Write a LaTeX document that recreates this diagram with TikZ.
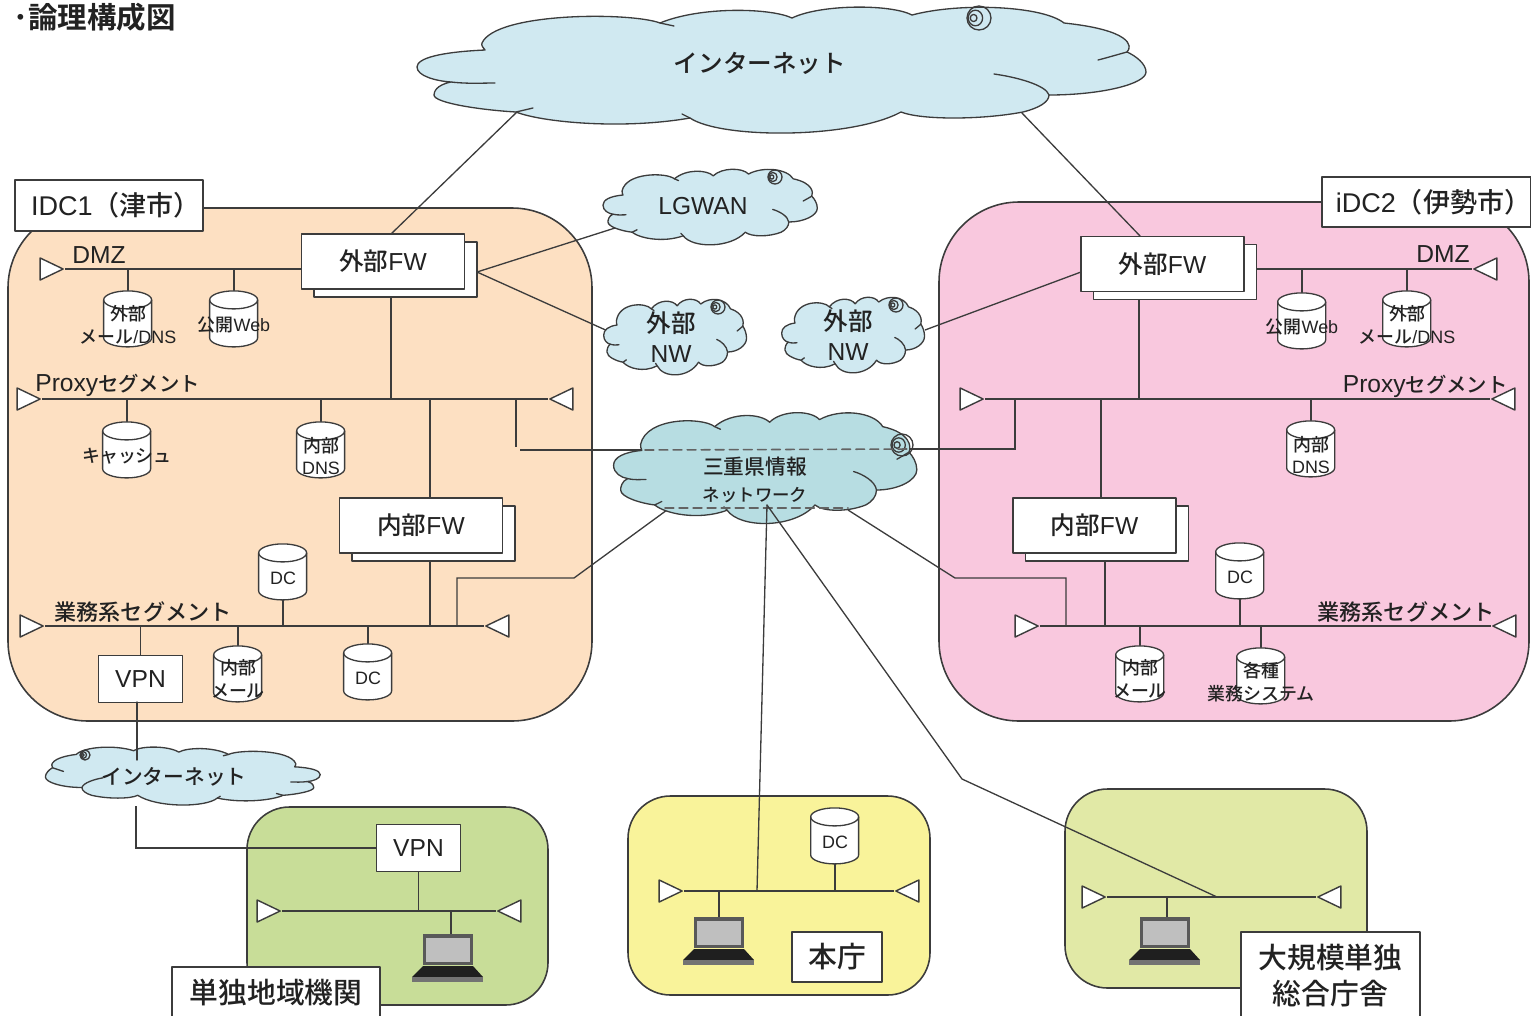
\documentclass[tikz,border=0pt]{standalone}
\usepackage{fontspec}
\setmainfont{Liberation Sans}
\newfontfamily\cjk{Noto Sans CJK JP Medium}
\newfontfamily\cjkbold{Noto Sans CJK JP Bold}
\newcommand{\jp}[1]{{\cjk #1}}
\usepackage{tikz}
\usetikzlibrary{shapes,shadows,backgrounds,calc}
\definecolor{idcOne}{HTML}{FDE0C2}
\definecolor{idcTwo}{HTML}{F9C8DE}
\definecolor{siteGreen}{HTML}{C8DD98}
\definecolor{siteYellow}{HTML}{F9F39A}
\definecolor{siteLime}{HTML}{E1E9A6}
\definecolor{cloudPale}{HTML}{D0E9F1}
\definecolor{cloudDeep}{HTML}{B7DDE2}
\definecolor{inkLine}{HTML}{3C3C3C}
\definecolor{inkText}{HTML}{222222}
\tikzset{
	wire/.style={draw=inkLine,line width=0.75pt},
	dashwire/.style={draw=inkLine!80,line width=0.9pt,dashed,dash pattern=on 5pt off 3pt},
	region/.style={draw=inkLine,line width=0.9pt},
	txtS/.style={font=\fontsize{10.2}{13}\selectfont,text=inkText,align=center,inner sep=0pt},
	txtM/.style={font=\fontsize{11.8}{15}\selectfont,text=inkText,align=center,inner sep=0pt},
	txtL/.style={font=\fontsize{14}{17.2}\selectfont,text=inkText,align=center,inner sep=0pt},
	txtXL/.style={font=\fontsize{16.4}{20}\selectfont,text=inkText,align=center,inner sep=0pt},
	tagbox/.style={draw=inkLine,fill=white,line width=0.8pt,inner sep=0pt},
	fwbox/.style={tagbox,minimum width=3.26cm,minimum height=1.1cm,txtL,
		copy shadow={shadow xshift=0.25cm,shadow yshift=-0.16cm,fill=white,draw=inkLine,line width=0.8pt}},
	vpnbox/.style={tagbox,minimum width=1.68cm,minimum height=0.94cm,txtL},
	tipR/.style={draw=inkLine,fill=white,line width=0.8pt,isosceles triangle,isosceles triangle stretches,
		shape border rotate=0,minimum width=0.44cm,minimum height=0.46cm,inner sep=0pt,anchor=apex},
	tipL/.style={tipR,shape border rotate=180},
	dbbox/.style={minimum width=0.96cm,minimum height=1.11cm,inner sep=0pt},
	dbline/.style={wire,fill=white},
	pics/laptop/.style={code={
		\coordinate (-top) at (0,0);
		\fill[black!65] (-25,0) rectangle (25,31);
		\fill[black!25] (-22,4) rectangle (22,28);
		\fill[black!88] (-25,32) -- (25,32) -- (35,43) -- (-36,43) -- cycle;
		\fill[black!55] (-36,43) rectangle (35,48);
	}},
}
\newcommand{\netcloud}[5]{
	\begin{scope}[shift={(#1,#2)},xscale=#3,yscale=#4]
	\draw[wire,fill=#5] (-296,-20) .. controls (-340,-18) and (-364,-12) .. (-364,-3)
		.. controls (-364,6) and (-345,11) .. (-330,12)
		.. controls (-345,15) and (-347,22) .. (-347,25)
		.. controls (-347,33) and (-300,40) .. (-265,42)
		.. controls (-240,52) and (-160,60) .. (-91,48)
		.. controls (-60,69) and (70,69) .. (120,42)
		.. controls (140,50) and (200,50) .. (242,42)
		.. controls (258,38) and (268,32) .. (268,25)
		.. controls (320,25) and (365,14) .. (365,2)
		.. controls (365,-6) and (355,-14) .. (346,-18)
		.. controls (352,-24) and (350,-40) .. (283,-47)
		.. controls (262,-64) and (180,-68) .. (131,-55)
		.. controls (110,-66) and (40,-66) .. (11,-52)
		.. controls (-10,-62) and (-80,-64) .. (-121,-47)
		.. controls (-150,-58) and (-285,-58) .. (-299,-27)
		.. controls (-300,-25) and (-298,-22) .. (-296,-20) -- cycle;
	\draw[wire] (-330,12) .. controls (-312,14) and (-300,13) .. (-286,13);
	\draw[wire] (-265,42) -- (-248,38);
	\draw[wire] (-91,48) -- (-99,44);
	\draw[wire] (268,25) .. controls (265,15) and (235,7) .. (213,4);
	\draw[wire] (346,-18) .. controls (335,-15) and (325,-12) .. (317,-10);
	\draw[wire] (-121,-47) -- (-107,-44);
	\end{scope}
}
\newcommand{\cloudswirl}[3]{
	\draw[wire] (#1,#2) ellipse ({#3} and {#3});
	\draw[wire] ({#1-0.3*#3},#2) ellipse ({0.6*#3} and {0.65*#3});
	\draw[wire] ({#1-0.45*#3},#2) ellipse ({0.28*#3} and {0.3*#3});
}
\begin{document}
\begin{tikzpicture}[line cap=round,line join=round,x=0.02cm,y=-0.02cm]
	\useasboundingbox (0,0) rectangle (1531,1015);
	\begin{scope}[on background layer]
	\draw[region,fill=idcOne,rounded corners=1.6cm] (8,208) rectangle (592,721);
	\draw[region,fill=idcTwo,rounded corners=1.6cm] (939,202) rectangle (1529,721);
	\draw[region,fill=siteGreen,rounded corners=0.85cm] (247,807) rectangle (548,1005);
	\draw[region,fill=siteYellow,rounded corners=0.85cm] (628,796) rectangle (930,995);
	\draw[region,fill=siteLime,rounded corners=0.85cm] (1065,789) rectangle (1367,988);
	\end{scope}

	\node[txtL,font=\fontsize{16.8}{19}\selectfont,anchor=west] (title) at (13,17) {{\cjkbold ･論理構成図}};
	\node[tagbox,txtL,font=\fontsize{15.4}{18}\selectfont,minimum width=3.76cm,minimum height=1.02cm] (tagIdcA) at (109,205.5) {IDC1\jp{（津市）}\hspace*{-8pt}};
	\node[tagbox,txtL,font=\fontsize{15.4}{18}\selectfont,minimum width=4.18cm,minimum height=1cm] (tagIdcB) at (1426.5,202) {iDC2\jp{（伊勢市）}\hspace*{-8pt}};
	\node[tagbox,txtXL,minimum width=1.8cm,minimum height=1cm] (tagHonchou) at (837,957) {\jp{本庁}};
	\node[tagbox,txtXL,minimum width=4.16cm,minimum height=1.04cm] (tagSolo) at (276,993) {\jp{単独地域機関}};
	\node[tagbox,txtXL,minimum width=3.58cm,minimum height=1.74cm] (tagLarge) at (1330.5,975.5) {\jp{大規模単独}\\\jp{総合庁舎}};

	\node[fwbox] (fwA) at (383,261.5) {\jp{外部}FW};
	\node[fwbox] (fwB) at (1162.5,264) {\jp{外部}FW};
	\node[fwbox] (fwC) at (421,525.5) {\jp{内部}FW};
	\node[fwbox] (fwD) at (1094.5,525.5) {\jp{内部}FW};
	\node[vpnbox] (vpnA) at (140.5,679) {VPN};
	\node[vpnbox] (vpnB) at (418.5,848) {VPN};

	\node[tipR] (dmzA-l) at (65,269) {};
	\node[tipL] (dmzB-r) at (1472,269) {};
	\foreach \nm/\lx/\rx/\y in {proxyA/42/548/399,proxyB/985/1490/399,bizA/45/484/626,bizB/1040/1491/626,
		busGreen/282/496/911,busYellow/684/894/891,busLime/1107/1316/897}{
		\node[tipR] (\nm-l) at (\lx,\y) {};
		\node[tipL] (\nm-r) at (\rx,\y) {};
	}

	\node[txtL,anchor=west] (dmzAtxt) at (72,255) {DMZ};
	\node[txtL,anchor=east] (dmzBtxt) at (1470,254) {DMZ};
	\node[txtL,anchor=west] (proxyAtxt) at (35,385) {Proxy\jp{\fontsize{11.6}{15}\selectfont セグメント}};
	\node[txtL,anchor=east] (proxyBtxt) at (1508,386) {Proxy\jp{\fontsize{11.6}{15}\selectfont セグメント}};
	\node[txtM,font=\fontsize{12.6}{15}\selectfont] (bizAtxt) at (143,612) {\jp{業務系セグメント}};
	\node[txtM,font=\fontsize{12.6}{15}\selectfont] (bizBtxt) at (1406,612) {\jp{業務系セグメント}};

	\foreach \nm/\x/\y/\ty/\txt in {dbA/128/319/325/{\jp{外部}\\\jp{メール}/DNS},dbB/234/319/325/{\jp{公開}Web},
		dbC/127/450/456/{\jp{キャッシュ}},dbD/321/450/456/{\jp{内部}\\DNS},dbE/283/572/578/DC,
		dbF/368/672/678/DC,dbG/238/674/679/{\jp{内部}\\\jp{メール}},dbH/1302/321/327/{\jp{公開}Web},
		dbI/1407/319/325/{\jp{外部}\\\jp{メール}/DNS},dbJ/1311/449/455/{\jp{内部}\\DNS},dbK/1240/571/577/DC,
		dbL/1140/674/679/{\jp{内部}\\\jp{メール}},dbM/1261/676/682/{\jp{各種}\\\jp{業務システム}},dbN/835/836/842/DC}{
		\node[dbbox] (\nm) at (\x,\y) {};
		\draw[dbline] (\nm.north west) ++(0,9) -- ++(0,38) arc[x radius=0.48cm,y radius=0.18cm,start angle=180,end angle=360]
			-- ++(0,-38) arc[x radius=0.48cm,y radius=0.18cm,start angle=0,end angle=180] -- cycle;
		\draw[wire] (\nm.north west) ++(0,9) arc[x radius=0.48cm,y radius=0.18cm,start angle=180,end angle=360];
		\node[txtS] (\nm t) at (\x,\ty) {\txt};
	}

	\pic (lapA) at (448,934) {laptop};
	\pic (lapB) at (719,917) {laptop};
	\pic (lapC) at (1165,917) {laptop};

	\coordinate (inetSW) at (519,110);
	\coordinate (inetSE) at (1021,112);
	\coordinate (fwAn) at (391,234);
	\coordinate (fwBn) at (1141,237);
	\coordinate (lgwanW) at (615,228);
	\coordinate (nwAw) at (610,332);
	\coordinate (nwBe) at (925,330);
	\coordinate (fwAe) at (477,272);
	\coordinate (fwBw) at (1081,272);
	\coordinate (fwAs) at (391,290);
	\coordinate (fwBs) at (1139,290);
	\coordinate (fwCs) at (430,525);
	\coordinate (fwDn) at (1101,500);
	\coordinate (fwDs) at (1105,555);
	\coordinate (mieW) at (645,450);
	\coordinate (mieE) at (910,449);
	\coordinate (mieSW) at (667,510);
	\coordinate (mieSE) at (848,510);
	\coordinate (mieDl) at (665,508);
	\coordinate (mieDr) at (848,508);
	\coordinate (mieS) at (767,505);
	\coordinate (bendA) at (574,578);
	\coordinate (bendAa) at (457,578);
	\coordinate (bendB) at (955,578);
	\coordinate (bendBa) at (1066,578);
	\coordinate (bendC) at (962,779);
	\coordinate (dropA) at (516,447);
	\coordinate (dropAh) at (520,450);
	\coordinate (dropB) at (1015,449);
	\coordinate (vpnAs) at (137,702);
	\coordinate (vpnAt) at (137,760);
	\coordinate (inetLs) at (136,806);
	\coordinate (bendD) at (136,848);
	\coordinate (lapAw) at (451,934);
	\coordinate (lapCw) at (1167,917);
	\coordinate (hitYellow) at (757,891);
	\coordinate (hitLime) at (1217,897);

	\begin{scope}[on background layer]
	\foreach \nm in {proxyA,proxyB,bizA,bizB,busGreen,busYellow,busLime}
	\draw[wire] (\nm-l.apex) -- (\nm-r.apex);
	\draw[wire] (dmzA-l.apex) -- (fwA.west |- dmzA-l);
	\draw[wire] (fwB.east |- dmzB-r) -- (dmzB-r.apex);
	\draw[wire] (inetSW) -- (fwAn);
	\draw[wire] (inetSE) -- (fwBn);
	\draw[wire] (fwAe) -- (lgwanW);
	\draw[wire] (fwAe) -- (nwAw);
	\draw[wire] (nwBe) -- (fwBw);
	\draw[wire] (fwAs) -- (fwAs |- proxyA-l);
	\draw[wire] (fwBs) -- (fwBs |- proxyB-l);
	\draw[wire] (fwCs |- proxyA-l) -- (fwCs |- bizA-l);
	\draw[wire] (fwDn |- proxyB-l) -- (fwDn);
	\draw[wire] (fwDs) -- (fwDs |- bizB-l);
	\draw[wire] (dropA |- proxyA-l) -- (dropA);
	\draw[wire] (dropAh) -- (mieW);
	\draw[wire] (dropB |- proxyB-l) -- (dropB) -- (mieE);
	\draw[wire] (mieSW) -- (bendA) -- (bendAa) -- (bendAa |- bizA-l);
	\draw[wire] (mieSE) -- (bendB) -- (bendBa) -- (bendBa |- bizB-l);
	\foreach \nm in {dbA,dbB}
	\draw[wire] (\nm) -- (\nm |- dmzA-l);
	\foreach \nm in {dbH,dbI}
	\draw[wire] (\nm) -- (\nm |- dmzB-r);
	\foreach \nm in {dbC,dbD}
	\draw[wire] (\nm) -- (\nm |- proxyA-l);
	\draw[wire] (dbJ) -- (dbJ |- proxyB-l);
	\foreach \nm in {dbE,dbF,dbG}
	\draw[wire] (\nm) -- (\nm |- bizA-l);
	\foreach \nm in {dbK,dbL,dbM}
	\draw[wire] (\nm) -- (\nm |- bizB-l);
	\draw[wire] (dbN) -- (dbN |- busYellow-l);
	\draw[wire] (vpnA) -- (vpnA |- bizA-l);
	\draw[wire] (vpnB) -- (vpnB |- busGreen-l);
	\draw[wire] (lapAw) -- (lapAw |- busGreen-l);
	\draw[wire] (lapB-top) -- (lapB-top |- busYellow-l);
	\draw[wire] (lapCw) -- (lapCw |- busLime-l);
	\draw[wire] (inetLs) -- (bendD) -- (vpnB);
	\end{scope}

	\netcloud{781}{70}{1}{1}{cloudPale}
	\netcloud{710}{207}{0.294}{0.6}{cloudPale}
	\netcloud{675}{337}{0.196}{0.6}{cloudPale}
	\netcloud{853}{335}{0.196}{0.6}{cloudPale}
	\netcloud{765}{468}{0.416}{0.88}{cloudDeep}
	\netcloud{183}{776}{-0.377}{0.46}{cloudPale}
	\cloudswirl{979}{18}{12}
	\cloudswirl{775}{177}{7}
	\cloudswirl{718}{307}{7}
	\cloudswirl{896}{305}{7}
	\cloudswirl{902}{445}{11}
	\cloudswirl{85}{755}{5}

	\node[txtL] (inetTxt) at (760,63) {\jp{インターネット}};
	\node[txtL] (lgwanTxt) at (703,206) {LGWAN};
	\node[txtL] (nwAtxt) at (671,337) {\jp{外部}\\NW};
	\node[txtL] (nwBtxt) at (848,335) {\jp{外部}\\NW};
	\node[txtM] (mieTxt) at (755,480) {\jp{三重県情報}\\\jp{\fontsize{9.9}{15}\selectfont ネットワーク}};
	\node[txtM] (inetLtxt) at (174,777) {\jp{インターネット}};

	\draw[dashwire] (mieW) -- (mieE);
	\draw[dashwire] (mieDl) -- (mieDr);
	\draw[wire] (mieS) -- (hitYellow);
	\draw[wire] (mieS) -- (bendC) -- (hitLime);
	\draw[wire] (vpnAs) -- (vpnAt);
\end{tikzpicture}
\end{document}
